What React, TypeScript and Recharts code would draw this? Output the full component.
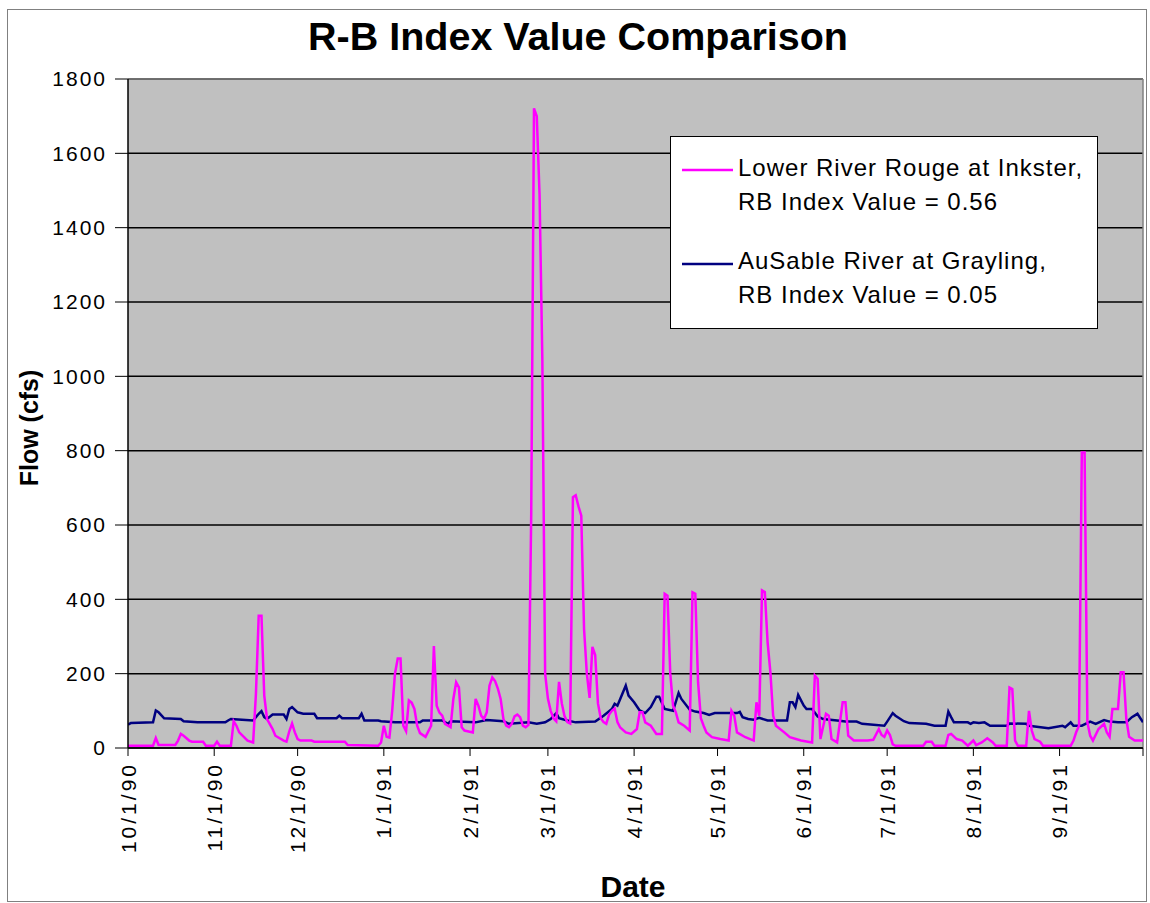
import React from "react";
import { LineChart, Line, XAxis, YAxis, CartesianGrid, ReferenceLine } from "recharts";

const FONT = '"Liberation Sans", Arial, sans-serif';

// x axis = days counted from 10/1/90
const tickDays = [0, 31, 61, 92, 123, 151, 182, 212, 243, 273, 304, 335, 365];
const tickLabels = ["10/1/90", "11/1/90", "12/1/90", "1/1/91", "2/1/91", "3/1/91", "4/1/91", "5/1/91", "6/1/91", "7/1/91", "8/1/91", "9/1/91", ""];
const flowTicks = [0, 200, 400, 600, 800, 1000, 1200, 1400, 1600, 1800];

// Lower River Rouge at Inkster
const rougeDays = [
  0, 9, 10, 11, 17, 18, 19, 20, 22, 23, 27, 28, 31, 32, 33, 37, 38, 39, 40, 43, 45, 46, 47, 48, 49, 50, 52, 53, 56, 57, 58, 59, 60, 61, 62, 66, 67, 78, 79,
  90, 91, 92, 93, 94, 95, 96, 97, 98, 99, 100, 101, 102, 103, 104, 105, 107, 109, 110, 111, 112, 113, 114, 116, 117, 118, 119, 120, 121, 124, 125, 126, 127, 128, 129,
  130, 131, 132, 133, 134, 135, 136, 137, 138, 139, 140, 141, 142, 143, 144, 145, 146, 147, 148, 149, 150, 151, 152, 153, 154, 155, 156, 157, 158, 159,
  160, 161, 162, 163, 164, 165, 166, 167, 168, 169, 170, 171, 172, 173, 174, 175, 176, 177, 179, 181, 183, 184, 185, 186, 188, 190, 192, 193, 194, 195, 196, 197, 198,
  200, 202, 203, 204, 205, 206, 207, 208, 210, 213, 216, 217, 218, 219, 222, 225, 226, 227, 228, 229, 230, 231, 232, 233, 236, 238, 242, 246, 247, 248, 249,
  251, 252, 253, 255, 257, 258, 259, 261, 266, 268, 270, 271, 272, 273, 274, 275, 276, 286, 287, 289, 290, 294, 295, 296, 298, 300, 302, 304, 305, 307, 309, 311, 312,
  316, 317, 318, 319, 320, 323, 324, 325, 326, 328, 329, 339, 340, 341, 342, 343, 344, 345, 346, 347, 349, 351, 352, 353, 354, 356, 357, 358, 359, 360, 362, 365,
];
const rougeFlow = [
  6, 6, 27, 8, 8, 20, 38, 33, 20, 17, 17, 6, 6, 17, 6, 6, 72, 60, 42, 20, 15, 145, 356, 356, 141, 78, 51, 33, 20, 17, 45, 66, 42, 24, 20, 20, 17, 17, 8,
  6, 15, 60, 30, 28, 100, 200, 241, 241, 60, 45, 128, 122, 105, 60, 40, 30, 60, 274, 114, 95, 87, 65, 56, 132, 177, 163, 56, 47, 42, 132, 114, 87, 78, 96,
  168, 190, 180, 160, 132, 78, 60, 56, 65, 85, 90, 83, 60, 56, 62, 629, 1721, 1700, 1488, 1045, 200, 133, 100, 80, 72, 178, 120, 85, 70, 66,
  675, 680, 650, 625, 320, 200, 135, 272, 250, 120, 80, 70, 65, 90, 100, 106, 70, 55, 42, 38, 51, 96, 96, 69, 60, 38, 38, 415, 410, 200, 114, 96, 69,
  60, 47, 419, 415, 177, 80, 60, 42, 29, 24, 20, 100, 87, 42, 29, 20, 123, 87, 424, 420, 285, 204, 87, 60, 42, 29, 20, 15, 195, 186, 24,
  92, 87, 24, 15, 123, 123, 33, 20, 20, 22, 51, 35, 30, 47, 35, 10, 6, 6, 17, 17, 6, 6, 35, 38, 24, 20, 6, 20, 8, 15, 26, 15, 6,
  6, 163, 159, 20, 6, 6, 100, 47, 24, 17, 6, 6, 20, 43, 60, 795, 795, 69, 33, 20, 51, 65, 42, 30, 105, 105, 204, 204, 78, 30, 20, 20,
];

// AuSable River at Grayling
const ausableDays = [
  0, 1, 9, 10, 11, 13, 19, 20, 25, 35, 36, 37, 41, 45, 47, 48, 49, 50, 52, 56, 57, 58, 59, 61, 63, 67, 68, 75, 76, 77, 83, 84, 85, 90, 91, 96,
  105, 106, 113, 115, 116, 125, 129, 135, 137, 144, 147, 150, 152, 154, 155, 158, 161, 168, 171, 174, 175, 176, 177, 179, 180, 182, 184, 186, 188, 190, 191, 193, 196, 198, 199,
  202, 204, 207, 209, 211, 219, 220, 221, 223, 225, 227, 230, 237, 238, 239, 240, 241, 243, 244, 246, 248, 250, 255, 258, 262, 264, 272, 273, 275, 276, 279, 281, 287, 290, 294, 295, 296, 297,
  302, 303, 304, 306, 308, 310, 316, 317, 323, 324, 331, 336, 337, 339, 340, 343, 346, 348, 351, 353, 356, 359, 361, 363, 365,
];
const ausableFlow = [
  63, 67, 69, 101, 96, 80, 78, 72, 69, 69, 74, 78, 76, 74, 92, 99, 83, 78, 90, 90, 78, 105, 110, 96, 92, 92, 80, 80, 87, 80, 80, 92, 74, 74, 72, 69,
  69, 74, 74, 65, 72, 69, 75, 72, 65, 69, 65, 69, 78, 94, 80, 74, 69, 71, 87, 105, 119, 114, 132, 168, 141, 123, 101, 94, 110, 138, 138, 105, 100, 148, 132,
  103, 98, 94, 89, 94, 94, 97, 83, 78, 76, 81, 74, 74, 123, 123, 110, 143, 114, 105, 105, 85, 78, 74, 71, 71, 65, 60, 71, 94, 87, 72, 67, 65, 60, 60, 98, 83, 69,
  69, 65, 69, 67, 69, 60, 60, 66, 65, 60, 53, 60, 56, 69, 60, 60, 71, 65, 75, 71, 69, 69, 83, 92, 69,
];

const rouge = rougeDays.map((day, i) => ({ day, flow: rougeFlow[i] }));
const ausable = ausableDays.map((day, i) => ({ day, flow: ausableFlow[i] }));

const DateTick = (props: any) => {
  const { x, y, payload } = props;
  const label = tickLabels[tickDays.indexOf(payload.value)];
  return (
    <text
      x={x}
      y={y}
      transform={`rotate(-90 ${x} ${y})`}
      textAnchor="end"
      dominantBaseline="central"
      fontSize={21}
      letterSpacing={3}
      fontFamily={FONT}
      fill="#000"
    >
      {label}
    </text>
  );
};

export default function App() {
  return (
    <div style={{ position: "absolute", left: 0, top: 0, width: 1150, height: 903, background: "#fff", fontFamily: FONT }}>
      <LineChart width={1150} height={903} margin={{ top: 79, right: 7, bottom: 0, left: 0 }}>
        <CartesianGrid vertical={false} stroke="#000" strokeWidth={1.5} fill="#C0C0C0" fillOpacity={1} />
        <XAxis
          dataKey="day"
          type="number"
          domain={[0, 365]}
          ticks={tickDays}
          interval={0}
          height={155}
          tickSize={8}
          tickMargin={6}
          tick={<DateTick />}
          axisLine={{ stroke: "#000", strokeWidth: 1.5 }}
          tickLine={{ stroke: "#000" }}
          allowDataOverflow
        />
        <YAxis
          type="number"
          domain={[0, 1800]}
          ticks={flowTicks}
          interval={0}
          width={128}
          tickSize={13}
          tickMargin={8}
          tick={{ fontSize: 21, fill: "#000", fontFamily: FONT, letterSpacing: 2 }}
          axisLine={{ stroke: "#000", strokeWidth: 1.5 }}
          tickLine={{ stroke: "#000" }}
        />
        <ReferenceLine y={1800} stroke="#808080" strokeWidth={1.5} />
        <ReferenceLine x={365} stroke="#808080" strokeWidth={1.5} />
        <Line data={ausable} dataKey="flow" name="AuSable River at Grayling" type="linear" stroke="#000080" strokeWidth={2.5} dot={false} isAnimationActive={false} />
        <Line data={rouge} dataKey="flow" name="Lower River Rouge at Inkster" type="linear" stroke="#FF00FF" strokeWidth={2.5} dot={false} isAnimationActive={false} />
      </LineChart>
      <svg width={1150} height={903} style={{ position: "absolute", left: 0, top: 0, pointerEvents: "none" }}>
        <rect x={7.5} y={9.5} width={1139} height={892} fill="none" stroke="#808080" />
        <text x={578} y={50} textAnchor="middle" fontSize={39.5} fontWeight="bold" fontFamily={FONT}>
          R-B Index Value Comparison
        </text>
        <text x={38} y={428} transform="rotate(-90 38 428)" textAnchor="middle" fontSize={25} fontWeight="bold" fontFamily={FONT}>
          Flow (cfs)
        </text>
        <text x={633} y={897} textAnchor="middle" fontSize={30} fontWeight="bold" fontFamily={FONT}>
          Date
        </text>
        <rect x={670.5} y={136.5} width={427} height={192} fill="#fff" stroke="#000" />
        <line x1={682} y1={170} x2={733} y2={170} stroke="#FF00FF" strokeWidth={2.5} />
        <line x1={682} y1={264} x2={733} y2={264} stroke="#000080" strokeWidth={2.5} />
        <g fontSize={24} letterSpacing={1} fontFamily={FONT} fill="#000">
          <text x={738} y={176}>Lower River Rouge at Inkster,</text>
          <text x={738} y={210}>RB Index Value = 0.56</text>
          <text x={738} y={269}>AuSable River at Grayling,</text>
          <text x={738} y={303}>RB Index Value = 0.05</text>
        </g>
      </svg>
    </div>
  );
}
